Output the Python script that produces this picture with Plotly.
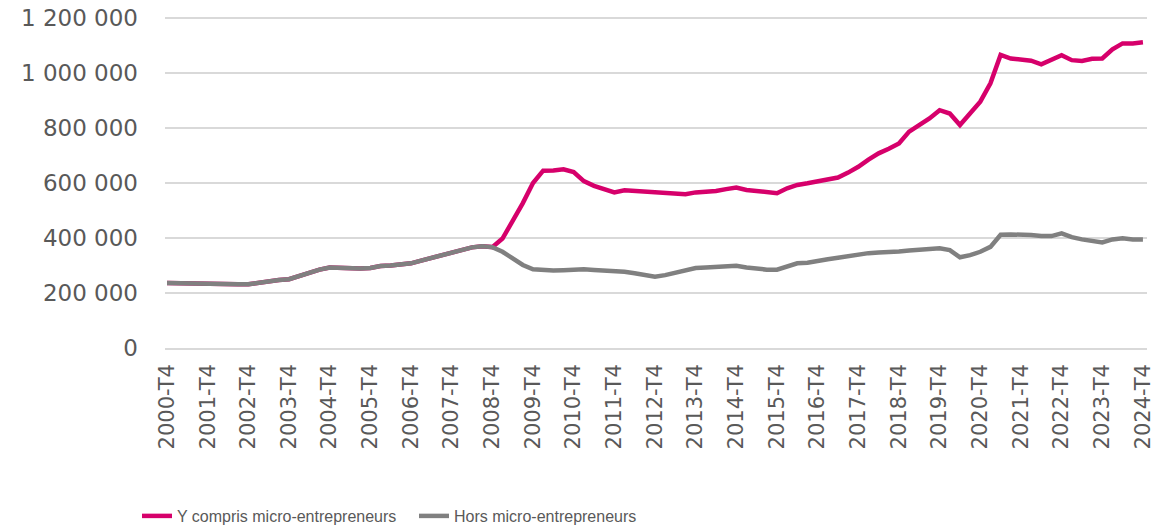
import plotly.graph_objects as go

# Quarterly categories 2000-T4 .. 2024-T4
quarters = ["2000-T4"] + [f"{y}-T{q}" for y in range(2001, 2025) for q in range(1, 5)]

hors_micro = [
    236000, 235000, 233000, 232000, 232000, 232000, 232000, 232000,
    232000, 238000, 242000, 247000, 250000, 262000, 274000, 285000,
    293000, 292000, 288000, 289000, 291000, 298000, 300000, 303000,
    308000, 318000, 328000, 338000, 350000, 358000, 366000, 370000,
    367000, 350000, 325000, 302000, 286000, 282000, 282000, 283000,
    286000, 286000, 284000, 282000, 281000, 277000, 272000, 264000,
    259000, 265000, 273000, 282000, 291000, 293000, 295000, 297000,
    299000, 293000, 288000, 285000, 285000, 298000, 308000, 310000,
    318000, 323000, 328000, 335000, 340000, 345000, 347000, 347000,
    351000, 355000, 358000, 362000, 363000, 356000, 330000, 338000,
    350000, 368000, 412000, 413000, 413000, 411000, 407000, 407000,
    417000, 403000, 395000, 388000, 384000, 395000, 399000, 395000,
    395000,
]

y_compris_micro = hors_micro[:33] + [
    398000, 460000, 527000, 600000, 645000, 646000, 650000,
    640000, 607000, 590000, 578000, 566000, 574000, 571000, 570000,
    566000, 563000, 561000, 559000, 566000, 568000, 571000, 578000,
    584000, 575000, 570000, 567000, 563000, 581000, 593000, 599000,
    605000, 615000, 620000, 638000, 659000, 685000, 708000, 725000,
    744000, 787000, 812000, 835000, 865000, 853000, 811000, 853000,
    896000, 963000, 1066000, 1053000, 1050000, 1045000, 1032000, 1047000,
    1065000, 1047000, 1044000, 1052000, 1053000, 1086000, 1108000, 1108000,
    1112000,
]

x_tick_labels = [q for q in quarters if q.endswith("T4")]
y_tick_vals = [0, 200000, 400000, 600000, 800000, 1000000, 1200000]
y_tick_text = ["0", "200 000", "400 000", "600 000", "800 000", "1 000 000", "1 200 000"]

PINK = "#d6006b"
GRAY = "#808080"
TXT = "#595959"
GRID = "#d9d9d9"

W, H = 1154, 528

fig = go.Figure()
fig.add_trace(go.Scatter(
    x=quarters, y=y_compris_micro, mode="lines", name="Y compris micro-entrepreneurs",
    line=dict(color=PINK, width=4.5), legend="legend",
))
fig.add_trace(go.Scatter(
    x=quarters, y=hors_micro, mode="lines", name="Hors micro-entrepreneurs",
    line=dict(color=GRAY, width=4.5), legend="legend2",
))

legend_font = dict(family="Liberation Sans, Arial, sans-serif", size=16, color=TXT)
leg_y = (H - 499) / H

fig.update_layout(
    width=W, height=H,
    margin=dict(l=165, r=7, t=17, b=180),
    paper_bgcolor="white", plot_bgcolor="white",
    showlegend=True,
    legend=dict(orientation="h", xref="container", yref="container",
                x=137/W, y=leg_y, xanchor="left", yanchor="top",
                font=legend_font, bgcolor="rgba(0,0,0,0)", itemwidth=30),
    legend2=dict(orientation="h", xref="container", yref="container",
                 x=414/W, y=leg_y, xanchor="left", yanchor="top",
                 font=legend_font, bgcolor="rgba(0,0,0,0)", itemwidth=30),
    xaxis=dict(
        type="category", categoryorder="array", categoryarray=quarters,
        range=[-0.2, 96.4], automargin=False,
        tickmode="array", tickvals=x_tick_labels, ticktext=x_tick_labels,
        tickangle=-90, ticks="", showgrid=False,
        showline=True, linecolor=GRID, linewidth=1.5,
        tickfont=dict(family="DejaVu Sans", size=21, color=TXT),
        ticklabelstandoff=6, ticklabeloverflow="allow",
    ),
    yaxis=dict(
        range=[0, 1204000], automargin=False,
        tickmode="array", tickvals=y_tick_vals, ticktext=y_tick_text,
        showgrid=True, gridcolor=GRID, gridwidth=1.5,
        zeroline=False, ticks="",
        tickfont=dict(family="DejaVu Sans", size=23, color=TXT),
        ticklabelstandoff=26, ticklabeloverflow="allow",
    ),
)

# remove the browser's default 8px body margin so the figure fills the window
fig.write_html(
    "out.html",
    config={"displayModeBar": False},
    post_script="document.body.style.margin='0';document.body.style.overflow='hidden';",
)
